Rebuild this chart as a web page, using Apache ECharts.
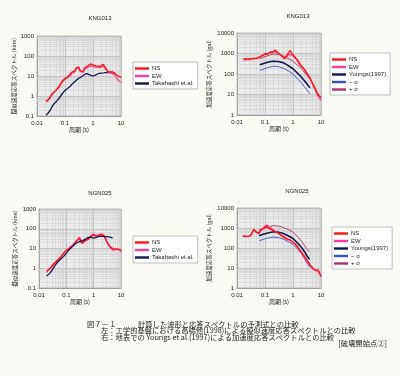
<!DOCTYPE html>
<html>
<head>
<meta charset="utf-8">
<script src="https://cdn.jsdelivr.net/npm/echarts@6/dist/echarts.min.js"></script>
<style>
  html, body { margin: 0; padding: 0; background: #fbfbf5; }
  #chart { width: 400px; height: 376px; }
</style>
</head>
<body>
<div id="chart"></div>
<script>
  // 左上: KNG013 擬似速度応答スペクトル (kine)
  const period1 = [0.021, 0.025, 0.03, 0.035, 0.04, 0.045, 0.05, 0.06, 0.07, 0.08, 0.09, 0.1, 0.12, 0.14, 0.16, 0.18, 0.2, 0.22, 0.25, 0.28, 0.31, 0.35, 0.4, 0.45, 0.5, 0.6, 0.7, 0.8, 0.9, 1.0, 1.1, 1.3, 1.5, 1.8, 2.0, 2.3, 2.6, 3.0, 3.5, 4.0, 5.0, 6.0, 7.0, 8.0, 10]
  const ns1 = [0.55, 0.65, 0.9, 1.3, 1.5, 1.8, 2.0, 2.8, 4.0, 5.5, 6.0, 7.5, 8.5, 11, 12, 16, 18, 17, 25, 30, 28, 18, 22, 17, 25, 30, 27, 40, 48, 36, 45, 32, 40, 30, 28, 38, 45, 22, 16, 14, 16, 14, 11, 9, 8.5]
  const ew1 = [0.5, 0.6, 0.85, 1.2, 1.45, 1.7, 1.9, 2.6, 3.8, 5.0, 5.8, 7.0, 8.2, 10, 11, 14, 17, 15, 22, 28, 25, 17, 20, 15, 22, 26, 24, 32, 38, 30, 35, 27, 32, 26, 24, 30, 35, 20, 15, 13, 14, 11, 8, 6, 4.8]
  const takaPeriod1 = [0.021, 0.025, 0.03, 0.035, 0.04, 0.045, 0.05, 0.06, 0.07, 0.08, 0.1, 0.12, 0.15, 0.18, 0.2, 0.25, 0.3, 0.35, 0.4, 0.5, 0.6, 0.7, 0.8, 1.0, 1.2, 1.5, 2.0, 2.5, 3.0, 4.0, 5.0, 5.5]
  const taka1 = [0.11, 0.14, 0.2, 0.3, 0.4, 0.5, 0.55, 0.75, 1.0, 1.3, 1.9, 2.3, 3.0, 4.0, 4.5, 6.0, 7.5, 8.0, 9.5, 12, 13, 12, 11, 10, 11, 13, 14, 14.5, 15, 15, 14, 12]

  // 右上: KNG013 加速度応答スペクトル (gal)
  const period2 = [0.017, 0.02, 0.025, 0.03, 0.04, 0.05, 0.06, 0.07, 0.08, 0.1, 0.12, 0.15, 0.18, 0.2, 0.23, 0.26, 0.3, 0.35, 0.4, 0.5, 0.6, 0.7, 0.8, 0.9, 1.0, 1.2, 1.5, 1.8, 2.0, 2.5, 3.0, 4.0, 5.0, 6.0, 7.0, 8.0, 10]
  const ns2 = [550, 560, 540, 560, 580, 560, 650, 750, 800, 1000, 900, 1150, 1100, 1300, 1500, 1200, 1000, 850, 800, 550, 800, 1100, 1400, 1000, 800, 650, 450, 300, 280, 170, 120, 65, 35, 22, 14, 10, 7]
  const ew2 = [480, 500, 500, 520, 560, 600, 620, 680, 750, 900, 1000, 1100, 1250, 1400, 1200, 1300, 1100, 900, 700, 600, 700, 900, 1000, 850, 700, 600, 400, 260, 230, 180, 110, 60, 32, 18, 11, 8, 5]
  const modelPeriod2 = [0.066, 0.1, 0.15, 0.2, 0.3, 0.4, 0.5, 0.7, 1.0, 1.5, 2.0, 3.0, 4.0]
  const youngs2 = [280, 340, 400, 420, 410, 370, 330, 250, 180, 105, 70, 36, 21]
  const minus2 = [150, 185, 220, 240, 230, 200, 180, 140, 100, 55, 37, 18, 11]
  const plus2 = [560, 700, 850, 950, 900, 800, 700, 550, 420, 260, 180, 95, 55]

  // 左下: NGN025 擬似速度応答スペクトル (kine)
  const period3 = [0.019, 0.022, 0.026, 0.03, 0.035, 0.04, 0.05, 0.06, 0.07, 0.08, 0.1, 0.12, 0.15, 0.18, 0.2, 0.25, 0.3, 0.33, 0.37, 0.42, 0.5, 0.6, 0.7, 0.8, 1.0, 1.2, 1.5, 1.8, 2.0, 2.3, 2.6, 3.0, 3.5, 4.0, 4.6, 5.2, 6.0, 7.0, 8.0, 9.0, 10]
  const ns3 = [0.7, 0.85, 1.0, 1.3, 1.7, 2.0, 2.8, 3.5, 4.5, 5.5, 8.0, 9.5, 12, 15, 18, 25, 33, 25, 18, 22, 25, 28, 33, 40, 50, 42, 45, 50, 60, 45, 35, 22, 16, 12, 10, 9.5, 9, 9, 10, 9, 7.5]
  const ew3 = [0.6, 0.8, 1.0, 1.2, 1.6, 2.1, 2.6, 3.3, 4.8, 6, 8.5, 10, 13, 16, 20, 28, 38, 30, 20, 25, 28, 30, 35, 45, 55, 45, 48, 55, 68, 50, 38, 24, 15, 11, 9, 8, 8.5, 10, 9, 8, 7]
  const takaPeriod3 = [0.019, 0.022, 0.026, 0.03, 0.035, 0.04, 0.05, 0.06, 0.07, 0.08, 0.1, 0.12, 0.15, 0.2, 0.25, 0.3, 0.35, 0.4, 0.5, 0.6, 0.7, 0.8, 1.0, 1.2, 1.5, 2.0, 2.5, 3.0, 4.0, 5.0]
  const taka3 = [0.4, 0.5, 0.6, 0.8, 1.1, 1.5, 2.2, 2.8, 3.3, 4.0, 5.8, 8.0, 11, 16, 20, 22, 20, 25, 30, 35, 40, 38, 33, 36, 40, 42, 40, 40, 38, 34]

  // 右下: NGN025 加速度応答スペクトル (gal)
  const period4 = [0.016, 0.02, 0.025, 0.03, 0.035, 0.04, 0.045, 0.05, 0.06, 0.07, 0.08, 0.09, 0.1, 0.11, 0.12, 0.13, 0.15, 0.18, 0.2, 0.25, 0.3, 0.35, 0.4, 0.5, 0.6, 0.7, 0.8, 1.0, 1.2, 1.5, 1.8, 2.0, 2.5, 3.0, 3.5, 4.0, 5.0, 6.0, 7.0, 8.0, 9.0, 10]
  const ns4 = [400, 390, 380, 420, 600, 850, 700, 600, 550, 800, 1000, 900, 1100, 1300, 1200, 1000, 900, 800, 700, 600, 550, 450, 400, 330, 280, 260, 250, 200, 160, 110, 75, 60, 40, 28, 20, 15, 10, 8, 8, 7, 5, 3.8]
  const ew4 = [380, 380, 370, 400, 550, 800, 750, 650, 500, 700, 900, 1100, 1250, 1500, 1400, 1350, 1100, 900, 750, 650, 550, 480, 420, 350, 300, 280, 230, 190, 150, 100, 70, 55, 35, 25, 17, 13, 9, 8, 7, 8, 6, 3.5]
  const modelPeriod4 = [0.062, 0.08, 0.1, 0.15, 0.2, 0.3, 0.4, 0.5, 0.7, 1.0, 1.5, 2.0, 2.5, 3.0, 3.9]
  const youngs4 = [410, 470, 520, 600, 650, 620, 560, 500, 400, 300, 170, 110, 70, 45, 27]
  const minus4 = [230, 260, 290, 330, 350, 330, 300, 260, 200, 150, 85, 55, 32, 20, 11]
  const plus4 = [800, 900, 1000, 1200, 1300, 1250, 1150, 1000, 820, 620, 350, 220, 140, 95, 65]

  // 目盛
  const periodTicks = [0.01, 10]
  const kineRange = [0.1, 1000]
  const galRange = [1, 10000]

  const FONT = '"Liberation Sans", Arial, sans-serif'
  const JP = '"Noto Sans CJK JP", sans-serif'
  const C_NS = '#ff1414'
  const C_EW = '#ff3c9e'
  const C_MODEL = '#10184e'
  const C_MINUS = '#3452cc'
  const C_PLUS = '#b0306e'

  const zip = (xs, ys) => xs.map((x, i) => [x, ys[i]])
  const fmt = v => String(+(+v).toPrecision(3))

  // 対数目盛の細線 (2〜9)
  function minorLines(range, key) {
    const out = []
    for (let d = range[0]; d < range[1] * 0.99; d *= 10) {
      for (let k = 2; k <= 9; k++) out.push({ [key]: +(d * k).toPrecision(3) })
    }
    return out
  }

  // グリッド位置
  const grids = [
    { left: 37, top: 36, width: 84, height: 80 },
    { left: 237, top: 33, width: 84, height: 82 },
    { left: 39, top: 209, width: 82, height: 79 },
    { left: 237, top: 208, width: 84, height: 80 }
  ]
  const yRanges = [kineRange, galRange, kineRange, galRange]
  const yNames = ['擬似速度応答スペクトル (kine)', '加速度応答スペクトル (gal)', '擬似速度応答スペクトル (kine)', '加速度応答スペクトル (gal)']
  const yNameGaps = [20, 25, 21, 25]

  const xAxis = grids.map((g, i) => ({
    type: 'log', logBase: 10, gridIndex: i,
    min: periodTicks[0], max: periodTicks[1],
    name: '周期 (s)', nameLocation: 'middle', nameGap: 11,
    nameTextStyle: { fontFamily: JP, fontSize: 6, color: '#222' },
    axisLine: { show: true, lineStyle: { color: '#888', width: 0.6 } },
    axisTick: { show: false },
    axisLabel: { fontFamily: FONT, fontSize: 6, color: '#222', margin: 4, formatter: fmt },
    splitLine: { show: true, lineStyle: { color: '#a8a8a8', width: 0.6 } }
  }))
  const yAxis = grids.map((g, i) => ({
    type: 'log', logBase: 10, gridIndex: i,
    min: yRanges[i][0], max: yRanges[i][1],
    name: yNames[i], nameLocation: 'middle', nameGap: yNameGaps[i], nameRotate: 90,
    nameTextStyle: { fontFamily: JP, fontSize: 5.5, color: '#222' },
    axisLine: { show: true, lineStyle: { color: '#888', width: 0.6 } },
    axisTick: { show: false },
    axisLabel: { fontFamily: FONT, fontSize: 6, color: '#222', margin: 3, formatter: fmt },
    splitLine: { show: true, lineStyle: { color: '#a8a8a8', width: 0.6 } }
  }))

  const gridSeries = grids.map((g, i) => ({
    type: 'line', name: 'grid' + i, xAxisIndex: i, yAxisIndex: i, z: 1,
    data: [[periodTicks[0], yRanges[i][0]]], symbol: 'none', silent: true,
    lineStyle: { opacity: 0 },
    markLine: {
      silent: true, symbol: 'none', z: 1, animation: false,
      label: { show: false },
      lineStyle: { color: '#cdcdcd', width: 0.5, type: 'solid' },
      emphasis: { disabled: true },
      data: minorLines(periodTicks, 'xAxis').concat(minorLines(yRanges[i], 'yAxis'))
    }
  }))

  function line(name, idx, data, color, width) {
    return {
      type: 'line', name: name, xAxisIndex: idx, yAxisIndex: idx, z: 3,
      data: data, showSymbol: false, symbol: 'none',
      lineStyle: { color: color, width: width }, itemStyle: { color: color }
    }
  }

  const series = gridSeries.concat([
    line('Takahashi et al.', 0, zip(takaPeriod1, taka1), C_MODEL, 1.3),
    line('EW', 0, zip(period1, ew1), C_EW, 1.2),
    line('NS', 0, zip(period1, ns1), C_NS, 1.4),

    line('+ σ', 1, zip(modelPeriod2, plus2), C_PLUS, 0.9),
    line('EW', 1, zip(period2, ew2), C_EW, 1.2),
    line('NS', 1, zip(period2, ns2), C_NS, 1.4),
    line('Youngs(1997)', 1, zip(modelPeriod2, youngs2), C_MODEL, 1.6),
    line('− σ', 1, zip(modelPeriod2, minus2), C_MINUS, 0.9),

    line('EW', 2, zip(period3, ew3), C_EW, 1.2),
    line('NS', 2, zip(period3, ns3), C_NS, 1.4),
    line('Takahashi et al.', 2, zip(takaPeriod3, taka3), C_MODEL, 1.3),

    line('+ σ', 3, zip(modelPeriod4, plus4), C_PLUS, 0.9),
    line('Youngs(1997)', 3, zip(modelPeriod4, youngs4), C_MODEL, 1.6),
    line('− σ', 3, zip(modelPeriod4, minus4), C_MINUS, 0.9),
    line('EW', 3, zip(period4, ew4), C_EW, 1.2),
    line('NS', 3, zip(period4, ns4), C_NS, 1.4)
  ])

  function legend(left, top, names) {
    return {
      orient: 'vertical', left: left, top: top, data: names,
      icon: 'rect', itemWidth: 14, itemHeight: 2.4, itemGap: 0.5,
      padding: [3, 4, 2, 2], borderColor: '#999', borderWidth: 0.6,
      backgroundColor: '#fff', selectedMode: false,
      textStyle: { fontFamily: FONT, fontSize: 6, color: '#222', lineHeight: 7, padding: [0, 0, 0, -2] }
    }
  }
  const legends = [
    legend(133, 62, ['NS', 'EW', 'Takahashi et al.']),
    legend(330, 53, ['NS', 'EW', 'Youngs(1997)', '− σ', '+ σ']),
    legend(133, 236, ['NS', 'EW', 'Takahashi et al.']),
    legend(332, 227, ['NS', 'EW', 'Youngs(1997)', '− σ', '+ σ'])
  ]

  function text(x, y, str, size, family, align) {
    return {
      type: 'text', x: x, y: y, silent: true,
      style: { text: str, fontSize: size, fontFamily: family, fill: '#222', align: align || 'left', verticalAlign: 'middle' }
    }
  }
  const graphics = [
    text(100, 18, 'KNG013', 6, FONT, 'center'),
    text(298, 16, 'KNG013', 6, FONT, 'center'),
    text(100, 193, 'NGN025', 6, FONT, 'center'),
    text(297, 191, 'NGN025', 6, FONT, 'center'),
    text(87, 324, '図７－１', 7.3, JP),
    text(138, 324, '計算した波形と応答スペクトルの予測式との比較', 7.3, JP),
    text(101, 330.7, '左：工学的基盤における高橋他(1998)による擬似速度応答スペクトルとの比較', 7.3, JP),
    text(101, 337.3, '右：地表での Youngs et al.(1997)による加速度応答スペクトルとの比較', 7.3, JP),
    text(387, 343.5, '[破壊開始点②]', 7.3, JP, 'right')
  ]

  const myChart = echarts.init(document.getElementById('chart'), null, { renderer: 'canvas' })
  myChart.setOption({
    backgroundColor: '#fbfbf5',
    animation: false,
    grid: grids.map(g => Object.assign({ show: true, backgroundColor: '#ececec', borderColor: '#999', borderWidth: 0.6 }, g)),
    xAxis: xAxis,
    yAxis: yAxis,
    legend: legends,
    graphic: graphics,
    series: series
  })
</script>
</body>
</html>
